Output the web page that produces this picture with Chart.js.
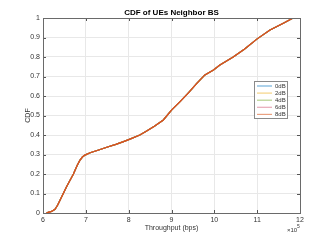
<!DOCTYPE html>
<html>
<head>
<meta charset="utf-8">
<script src="https://cdn.jsdelivr.net/npm/chart.js@4/dist/chart.umd.min.js"></script>
<style>
html,body{margin:0;padding:0;background:#fff;}
#wrap{width:332px;height:240px;position:relative;}
</style>
</head>
<body>
<div id="wrap"><canvas id="c" width="332" height="240"></canvas></div>
<script>
// ---- data (throughput in units of 10^5 bps) ----
const chartTitle = 'CDF of UEs Neighbor BS';
const xAxisTitle = 'Throughput (bps)';
const yAxisTitle = 'CDF';
const xExponentLabel = '\u00d710';
const xExponent = '5';
const seriesNames = ['0dB', '2dB', '4dB', '6dB', '8dB'];
const xTicks = [6, 7, 8, 9, 10, 11, 12];
const yTicks = [0, 0.1, 0.2, 0.3, 0.4, 0.5, 0.6, 0.7, 0.8, 0.9, 1];
const yTickLabels = ['0', '0.1', '0.2', '0.3', '0.4', '0.5', '0.6', '0.7', '0.8', '0.9', '1'];

const throughput = [6.08,6.12,6.20,6.28,6.34,6.40,6.55,6.71,6.80,6.86,6.92,6.98,7.10,7.30,7.49,7.70,7.88,8.03,8.26,8.42,8.60,8.81,9.00,9.20,9.40,9.59,9.78,9.98,10.13,10.44,10.70,11.00,11.30,11.61,11.84];
const cdf0dB = [0,0.003,0.008,0.019,0.040,0.067,0.135,0.200,0.245,0.270,0.287,0.297,0.309,0.323,0.337,0.352,0.366,0.379,0.400,0.420,0.445,0.477,0.528,0.571,0.617,0.665,0.708,0.733,0.759,0.800,0.840,0.893,0.938,0.973,1.000];
const cdf2dB = [0,0.003,0.008,0.019,0.040,0.067,0.135,0.200,0.245,0.270,0.287,0.297,0.309,0.323,0.337,0.352,0.366,0.379,0.400,0.420,0.445,0.477,0.528,0.571,0.617,0.665,0.708,0.733,0.759,0.800,0.840,0.893,0.938,0.973,1.000];
const cdf4dB = [0,0.003,0.008,0.019,0.040,0.067,0.135,0.200,0.245,0.270,0.287,0.297,0.309,0.323,0.337,0.352,0.366,0.379,0.400,0.420,0.445,0.477,0.528,0.571,0.617,0.665,0.708,0.733,0.759,0.800,0.840,0.893,0.938,0.973,1.000];
const cdf6dB = [0,0.003,0.008,0.019,0.040,0.067,0.135,0.200,0.245,0.270,0.287,0.297,0.309,0.323,0.337,0.352,0.366,0.379,0.400,0.420,0.445,0.477,0.528,0.571,0.617,0.665,0.708,0.733,0.759,0.800,0.840,0.893,0.938,0.973,1.000];
const cdf8dB = [0,0.003,0.008,0.019,0.040,0.067,0.135,0.200,0.245,0.270,0.287,0.297,0.309,0.323,0.337,0.352,0.366,0.379,0.400,0.420,0.445,0.477,0.528,0.571,0.617,0.665,0.708,0.733,0.759,0.800,0.840,0.893,0.938,0.973,1.000];
const seriesColors = ['#0072BD', '#EDB120', '#77AC30', '#D4607A', '#D95319'];

const allSeries = [cdf0dB, cdf2dB, cdf4dB, cdf6dB, cdf8dB];
const FONT = '"Liberation Sans", Arial, Helvetica, sans-serif';

const datasets = allSeries.map((ys, i) => ({
  label: seriesNames[i],
  data: throughput.map((x, k) => ({x: x, y: ys[k]})),
  borderColor: seriesColors[i],
  backgroundColor: seriesColors[i],
  borderWidth: 1.2,
  pointRadius: 0,
  tension: 0,
  fill: false,
  order: seriesNames.length - i
}));

const boxPlugin = {
  id: 'matlabBox',
  afterDraw(chart) {
    const {ctx, chartArea: a, scales} = chart;
    ctx.save();
    // inside tick marks
    ctx.strokeStyle = '#555';
    ctx.lineWidth = 1;
    ctx.beginPath();
    xTicks.forEach(v => {
      const px = Math.round(scales.x.getPixelForValue(v)) + 0.5;
      ctx.moveTo(px, a.bottom); ctx.lineTo(px, a.bottom - 3);
      ctx.moveTo(px, a.top); ctx.lineTo(px, a.top + 3);
    });
    yTicks.forEach(v => {
      const py = Math.round(scales.y.getPixelForValue(v)) + 0.5;
      ctx.moveTo(a.left, py); ctx.lineTo(a.left + 3, py);
      ctx.moveTo(a.right, py); ctx.lineTo(a.right - 3, py);
    });
    ctx.stroke();
    // box
    ctx.strokeStyle = '#6a6a6a';
    ctx.strokeRect(Math.round(a.left) + 0.5, Math.round(a.top) + 0.5, Math.round(a.right - a.left), Math.round(a.bottom - a.top));
    // title
    ctx.fillStyle = '#000';
    ctx.font = 'bold 8px ' + FONT;
    ctx.textAlign = 'center';
    ctx.textBaseline = 'middle';
    ctx.fillText(chartTitle, (a.left + a.right) / 2, 12.5);
    // exponent label
    ctx.fillStyle = '#333';
    ctx.font = '6px ' + FONT;
    ctx.textAlign = 'left';
    ctx.fillText(xExponentLabel, a.right - 13, 230);
    ctx.font = '5px ' + FONT;
    ctx.fillText(xExponent, a.right - 3, 227);
    // legend
    const lx = 254, ly = 81, lw = 33, lh = 37;
    ctx.fillStyle = '#fff';
    ctx.fillRect(lx, ly, lw, lh);
    ctx.strokeStyle = '#8a8a8a';
    ctx.strokeRect(lx + 0.5, ly + 0.5, lw, lh);
    ctx.font = '6px ' + FONT;
    chart.data.datasets.forEach((ds, i) => {
      const y = ly + 5 + i * 7.1;
      ctx.globalAlpha = 0.55;
      ctx.strokeStyle = ds.borderColor;
      ctx.lineWidth = 1.2;
      ctx.beginPath();
      ctx.moveTo(lx + 3, y); ctx.lineTo(lx + 18, y);
      ctx.stroke();
      ctx.globalAlpha = 1;
      ctx.fillStyle = '#333';
      ctx.textAlign = 'left';
      ctx.textBaseline = 'middle';
      ctx.fillText(ds.label, lx + 21, y);
    });
    ctx.restore();
  }
};

new Chart(document.getElementById('c'), {
  type: 'line',
  data: {datasets: datasets},
  options: {
    responsive: false,
    animation: false,
    devicePixelRatio: 1,
    layout: {padding: {top: 18, right: 32, left: 0, bottom: 0}},
    plugins: {legend: {display: false}, title: {display: false}, tooltip: {enabled: false}},
    scales: {
      x: {
        type: 'linear', min: 6, max: 12,
        afterBuildTicks: s => { s.ticks = xTicks.map(v => ({value: v})); },
        afterFit: s => { s.height = 27; },
        grid: {color: '#e8e8e8', drawTicks: false, lineWidth: 1},
        border: {display: false},
        ticks: {
          padding: 3, color: '#333', font: {family: FONT, size: 7}, maxRotation: 0,
          callback: (v) => String(v)
        },
        title: {display: true, text: xAxisTitle, color: '#333', font: {family: FONT, size: 7}, padding: {top: 0, bottom: 7.8}}
      },
      y: {
        type: 'linear', min: 0, max: 1,
        afterBuildTicks: s => { s.ticks = yTicks.map(v => ({value: v})); },
        afterFit: s => { s.width = 43; },
        grid: {color: '#e8e8e8', drawTicks: false, lineWidth: 1},
        border: {display: false},
        ticks: {
          padding: 3, color: '#333', font: {family: FONT, size: 7},
          callback: (v) => { const k = yTicks.indexOf(v); return k >= 0 ? yTickLabels[k] : ''; }
        },
        title: {display: true, text: yAxisTitle, color: '#333', font: {family: FONT, size: 7}, padding: {top: 23.8, bottom: 0}}
      }
    }
  },
  plugins: [boxPlugin]
});
</script>
</body>
</html>
